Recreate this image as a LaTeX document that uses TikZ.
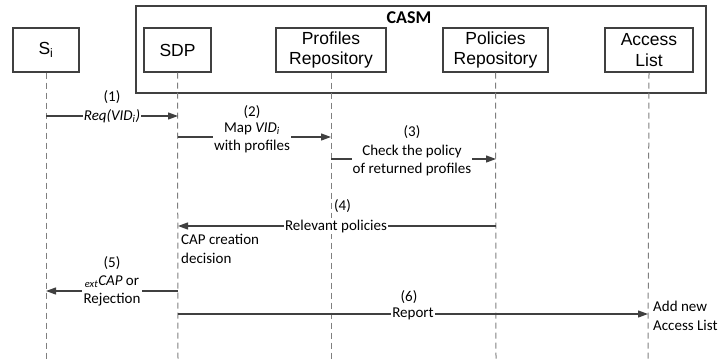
\documentclass[tikz,border=0pt]{standalone}
\usepackage{fontspec}
\setmainfont{Carlito}
\newfontfamily\arialf{Liberation Sans}
\usetikzlibrary{arrows.meta}
\definecolor{ln}{HTML}{404040}
\definecolor{dl}{HTML}{7F7F7F}
\tikzset{
  actor/.style={draw=ln, line width=1.1pt, fill=white, font=\arialf\fontsize{17.5}{20.5}\selectfont, align=center, inner sep=0pt, minimum height=44pt},
  life/.style={draw=dl, line width=1pt, dash pattern=on 6pt off 4pt},
  msg/.style={draw=ln, line width=1.2pt, -{Triangle[length=10pt,width=7pt]}},
  lbl/.style={font=\fontsize{15}{18}\selectfont, fill=white, inner sep=1.2pt, align=center, text=black},
  num/.style={font=\fontsize{15}{18}\selectfont, inner sep=1pt, text=black},
  note/.style={font=\fontsize{15}{19}\selectfont, inner sep=1pt, align=left, text=black}
}
\begin{document}
\begin{tikzpicture}[x=1pt,y=-1pt]
\useasboundingbox (0,0) rectangle (720,359);
% CASM frame
\node[draw=ln, line width=1.1pt, minimum width=570pt, minimum height=87pt, inner sep=0pt] (casm) at (421,49.5) {};
\node[font=\bfseries\fontsize{18}{20}\selectfont, inner sep=0pt] (casmt) at (409,18) {CASM};
% actors
\node[actor, minimum width=66pt] (si) at (46,50) {S\textsubscript{i}};
\node[actor, minimum width=67pt] (sdp) at (177.5,50) {SDP};
\node[actor, minimum width=110pt] (prof) at (331,50) {Profiles\\Repository};
\node[actor, minimum width=105pt] (pol) at (495.5,50) {Policies\\Repository};
\node[actor, minimum width=88pt] (acl) at (649,50) {Access\\List};
% lifeline ends
\coordinate (siE) at (46,359);
\coordinate (sdpE) at (178,359);
\coordinate (profE) at (331,359);
\coordinate (polE) at (496,359);
\coordinate (aclE) at (648,359);
\draw[life] (si.south) -- (siE);
\draw[life] (sdp.south) -- (sdpE);
\draw[life] (prof.south) -- (profE);
\draw[life] (pol.south) -- (polE);
\draw[life] (acl.south) -- (aclE);
% message points
\coordinate (m1a) at (46,116);  \coordinate (m1b) at (178,116);
\coordinate (m2a) at (178,137); \coordinate (m2b) at (331,137);
\coordinate (m3a) at (331,159); \coordinate (m3b) at (496,159);
\coordinate (m4a) at (496,226); \coordinate (m4b) at (178,226);
\coordinate (m5a) at (178,291); \coordinate (m5b) at (46,291);
\coordinate (m6a) at (178,314); \coordinate (m6b) at (648,314);
% (1)
\draw[msg] (m1a) -- (m1b);
\node[lbl] (l1) at (112,116) {\textit{Req(VID\textsubscript{i})}};
\node[num] (n1) at (112,97) {(1)};
% (2)
\draw[msg] (m2a) -- (m2b);
\node[lbl] (l2) at (252,138) {Map \textit{VID\textsubscript{i}}\\with profiles};
\node[num] (n2) at (252,112) {(2)};
% (3)
\draw[msg] (m3a) -- (m3b);
\node[lbl] (l3) at (412,160) {Check the policy\\of returned profiles};
\node[num] (n3) at (412,132) {(3)};
% (4)
\draw[msg] (m4a) -- (m4b);
\node[lbl] (l4) at (336,226) {Relevant policies};
\node[num, anchor=west] (n4) at (333,206) {(4)};
\node[note, anchor=north west] (cap) at (180,233) {CAP creation\\decision};
% (5)
\draw[msg] (m5a) -- (m5b);
\node[lbl] (l5) at (112,291) {\textsubscript{\textit{ext}}\textit{CAP} or\\Rejection};
\node[num] (n5) at (112,263) {(5)};
% (6)
\draw[msg] (m6a) -- (m6b);
\node[lbl] (l6) at (413,314) {Report};
\node[num] (n6) at (409,297) {(6)};
\node[note, anchor=west] (add) at (652,316) {Add new\\Access List};
\end{tikzpicture}
\end{document}
